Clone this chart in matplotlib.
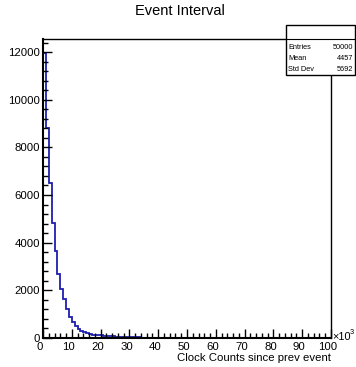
import matplotlib
matplotlib.use("Agg")
import matplotlib.pyplot as plt
import numpy as np
from matplotlib.patches import Rectangle
from matplotlib.lines import Line2D
from matplotlib.ticker import MultipleLocator
from matplotlib.transforms import ScaledTranslation

plt.rcParams['font.family'] = ['Liberation Sans', 'DejaVu Sans']

# Histogram: bin width 1000 clock counts (axis in units of 10^3)
bin_edges_k = list(range(0, 101))
counts = [11950, 8825, 6490, 4813, 3664, 2686, 2056, 1636, 1217, 894,
          685, 504, 378, 307, 237, 196, 160, 130, 110, 140,
          110, 95, 90, 80, 70, 60, 55, 50, 45, 40,
          35, 30, 28, 25, 20, 15, 12, 10, 8, 6,
          5, 4, 3, 2, 2, 1, 1, 1, 0, 0] + [0] * 50

title = "Event Interval"
xlabel = "Clock Counts since prev event"
stats_labels = ["Entries", "Mean", "Std Dev"]
stats_values = ["50000", "4457", "5692"]

W, H = 356, 367
fig = plt.figure(figsize=(W / 100, H / 100), dpi=100)

def fx(px):
    return px / W

def fy(py):
    return 1 - py / H

ax = fig.add_axes([fx(43), fy(338), fx(331) - fx(43), fy(39) - fy(338)])
ax.stairs(counts, bin_edges_k, color='#1f1fb0', lw=1.3)
ax.set_xlim(0, 100)
ax.set_ylim(0, max(counts) * 1.05)

ax.xaxis.set_major_locator(MultipleLocator(10))
ax.xaxis.set_minor_locator(MultipleLocator(2))
ax.yaxis.set_major_locator(MultipleLocator(2000))
ax.yaxis.set_minor_locator(MultipleLocator(400))
ax.tick_params(which='both', direction='in', top=False, right=False,
               labelsize=8.2, width=1.0, color='black')
ax.tick_params(which='major', length=6.5, pad=2)
ax.tick_params(which='minor', length=3.5)
ax.tick_params(axis='x', which='major', pad=3)
shift = ScaledTranslation(-3 / 100, 0, fig.dpi_scale_trans)
for lbl in ax.get_xticklabels():
    lbl.set_transform(lbl.get_transform() + shift)
for s in ax.spines.values():
    s.set_linewidth(1.0)
ax.spines['left'].set_linewidth(1.5)
ax.spines['bottom'].set_linewidth(1.5)

fig.text(fx(331), fy(361), xlabel, ha='right', va='baseline', fontsize=8.2)
fig.text(fx(332), fy(340), "\u00d710", ha='left', va='baseline', fontsize=7.8)
fig.text(fx(350), fy(334), "3", ha='left', va='baseline', fontsize=5.3)
fig.text(fx(180), fy(15), title, ha='center', va='baseline', fontsize=10.5)

# Stats box
bx0, by0, bx1, by1 = 286, 25, 355, 75
fig.patches.append(Rectangle((fx(bx0), fy(by1)), fx(bx1) - fx(bx0), fy(by0) - fy(by1),
                             transform=fig.transFigure, facecolor='white',
                             edgecolor='black', lw=1.0, zorder=5))
fig.lines.append(Line2D([fx(bx0), fx(bx1)], [fy(39), fy(39)],
                        transform=fig.transFigure, color='black', lw=0.8, zorder=6))
rows_y = [49, 60, 71]
for lab, val, yy in zip(stats_labels, stats_values, rows_y):
    fig.text(fx(bx0 + 2), fy(yy), lab, ha='left', va='baseline', fontsize=5.3, zorder=7)
    fig.text(fx(bx1 - 2), fy(yy), val, ha='right', va='baseline', fontsize=5.3, zorder=7)

fig.savefig("out.png", dpi=100)
